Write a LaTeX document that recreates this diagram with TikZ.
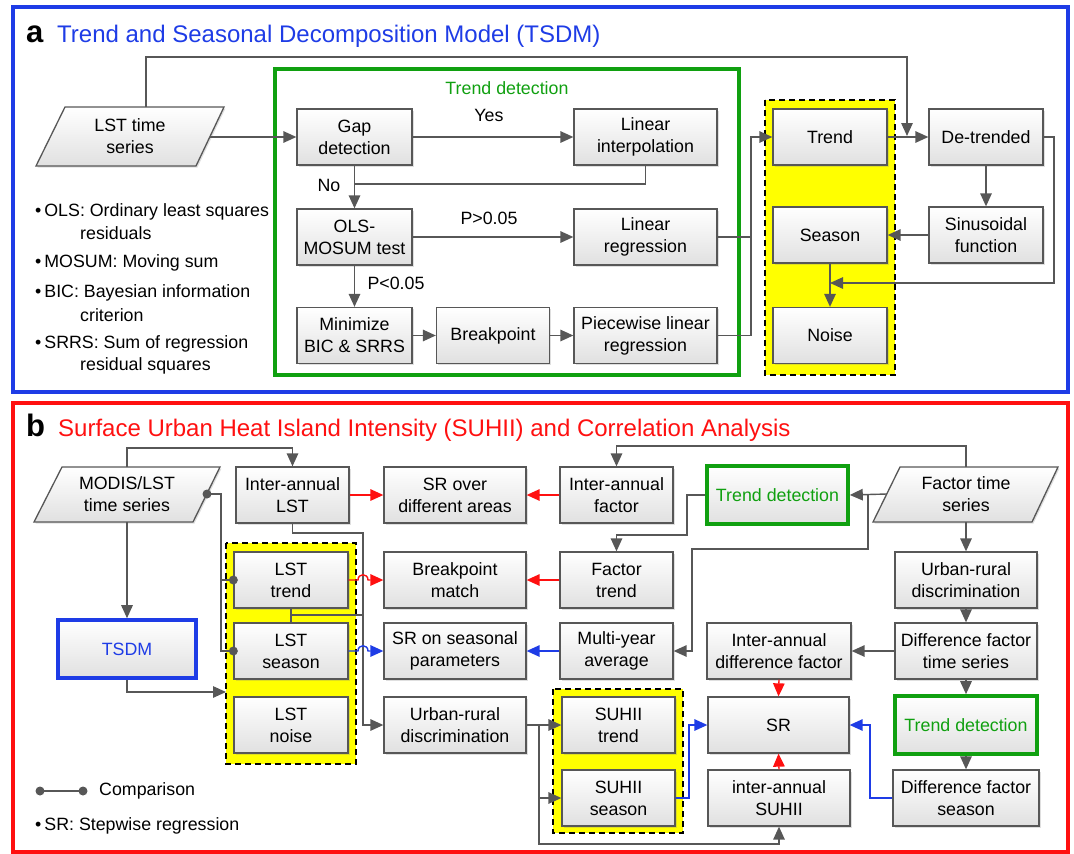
\documentclass[tikz,border=0pt]{standalone}
\usepackage{fontspec}
\setmainfont{Liberation Sans}
\usetikzlibrary{arrows.meta,shadows}
\definecolor{lg}{HTML}{575757}
\definecolor{bblue}{HTML}{1E3CE6}
\definecolor{gg}{HTML}{10A010}
\definecolor{rr}{HTML}{FF1010}
\definecolor{yy}{HTML}{FFFF00}
\tikzset{
  bx/.style={draw=lg, line width=1.3pt, top color=white, bottom color=black!12,
    align=center, inner sep=0pt, font=\fontsize{17.8}{22}\selectfont,
    drop shadow={shadow xshift=1.5pt,shadow yshift=-1.5pt,opacity=0.25}},
  gbx/.style={bx, draw=gg, line width=3.6pt, text=gg},
  bbx/.style={bx, draw=bblue, line width=3.6pt, text=bblue},
  para/.style={draw=lg, line width=1.3pt, top color=white, bottom color=black!12,
    drop shadow={shadow xshift=1.5pt,shadow yshift=-1.5pt,opacity=0.25}},
  txt/.style={inner sep=0pt, align=center, font=\fontsize{17.8}{22}\selectfont},
  lbl/.style={inner sep=0pt, font=\fontsize{17.8}{22}\selectfont},
  ln/.style={draw=lg, line width=1.4pt},
  ar/.style={ln, -{Triangle[length=13pt,width=11.5pt]}},
  rar/.style={ar, draw=rr},
  bar/.style={ar, draw=bblue},
  ybox/.style={fill=yy, draw=black, dash pattern=on 6pt off 4pt, line width=1.3pt},
  dotc/.style={fill=lg},
}
\begin{document}
\begin{tikzpicture}[x=1pt,y=-1pt]
\useasboundingbox (0,0) rectangle (1074,854);
% ================= frames
\draw[bblue, line width=4pt] (13,7) rectangle (1068,392);
\draw[rr, line width=3.5pt] (13,403) rectangle (1068,852);
\node[anchor=base west, inner sep=0pt, font=\bfseries\fontsize{31}{31}\selectfont] (ta) at (26,42) {a};
\node[anchor=base west, inner sep=0pt, text=bblue, font=\fontsize{24}{26}\selectfont] (tta) at (57,42) {Trend and Seasonal Decomposition Model (TSDM)};
\node[anchor=base west, inner sep=0pt, font=\bfseries\fontsize{31}{31}\selectfont] (tb) at (26,436) {b};
\node[anchor=base west, inner sep=0pt, text=rr, font=\fontsize{24}{26}\selectfont] (ttb) at (58,436) {Surface Urban Heat Island Intensity (SUHII) and Correlation Analysis};

% ================= section a
\draw[gg, line width=4pt] (275,69) rectangle (739,375);
\node[lbl, text=gg] (tdl) at (507,88) {Trend detection};
\path[ybox] (765,100) rectangle (895,375);

\path[para] (65,107) -- (224,107) -- (196,166) -- (36,166) -- cycle;
\node[txt] (lst) at (130,136.5) {LST time\\series};
\coordinate (lstE) at (210,137);
\coordinate (lstT) at (146,107);

\node[bx, minimum width=115, minimum height=56] (gap) at (354.5,137) {Gap\\detection};
\node[bx, minimum width=143, minimum height=56] (linint) at (645.5,137) {Linear\\interpolation};
\node[bx, minimum width=115, minimum height=56] (ols) at (354.5,237) {OLS-\\MOSUM test};
\node[bx, minimum width=143, minimum height=56] (linreg) at (645.5,237) {Linear\\regression};
\node[bx, minimum width=115, minimum height=56] (minb) at (354.5,335.5) {Minimize\\BIC \& SRRS};
\node[bx, minimum width=113, minimum height=56] (bkp) at (493,335.5) {Breakpoint};
\node[bx, minimum width=143, minimum height=56] (piece) at (645.5,335.5) {Piecewise linear\\regression};
\node[bx, minimum width=114, minimum height=56] (trend) at (830,137) {Trend};
\node[bx, minimum width=114, minimum height=56] (season) at (830,235) {Season};
\node[bx, minimum width=114, minimum height=56] (noise) at (830,335.5) {Noise};
\node[bx, minimum width=114, minimum height=56] (detr) at (986,137) {De-trended};
\node[bx, minimum width=114, minimum height=56] (sinus) at (986,235) {Sinusoidal\\function};

\node[lbl] (yes) at (489,115) {Yes};
\node[lbl] (no) at (329,185) {No};
\node[lbl] (pg) at (489,218) {P>0.05};
\node[lbl] (pl) at (396,283) {P<0.05};

\coordinate (dtin) at (907,136);
\draw[ar] (lstT) -- (146,57) -- (907,57) -- (dtin);
\draw[ar] (lstE) -- (gap.west);
\draw[ar] (gap.east) -- (linint.west);
\draw[ar] (gap.south) -- (ols.north);
\draw[ln] (linint.south) -- (645.5,184) -- (354.5,184);
\draw[ar] (ols.east) -- (linreg.west);
\draw[ar] (ols.south) -- (minb.north);
\draw[ar] (minb.east) -- (bkp.west);
\draw[ar] (bkp.east) -- (piece.west);
\draw[ar] (linreg.east) -- (751,237) -- (751,137) -- (trend.west);
\draw[ln] (piece.east) -- (751,335.5) -- (751,237);
\draw[ar] (trend.east) -- (detr.west);
\draw[ar] (detr.south) -- (sinus.north);
\draw[ar] (sinus.west) -- (season.east);
\draw[ar] (season.south) -- (noise.north);
\draw[ar] (detr.east) -- (1054,137) -- (1054,283) -- (830,283);

% legend a
\node[lbl, anchor=west] (b1) at (35,212) {\textbullet\,OLS: Ordinary least squares};
\node[lbl, anchor=west] (b1b) at (80,233) {residuals};
\node[lbl, anchor=west] (b2) at (35,263) {\textbullet\,MOSUM: Moving sum};
\node[lbl, anchor=west] (b3) at (35,293) {\textbullet\,BIC: Bayesian information};
\node[lbl, anchor=west] (b3b) at (80,315) {criterion};
\node[lbl, anchor=west] (b4) at (35,344) {\textbullet\,SRRS: Sum of regression};
\node[lbl, anchor=west] (b4b) at (80,366) {residual squares};

% ================= section b
\path[ybox] (226,543) rectangle (356,764);
\path[ybox] (553,689) rectangle (683,833);

\path[para] (62,467) -- (220,467) -- (193,522) -- (34,522) -- cycle;
\node[txt] (modis) at (127,494.5) {MODIS/LST\\time series};
\coordinate (modT) at (127,467);
\coordinate (modB) at (127,522);
\coordinate (modE) at (207,494);

\path[para] (900,467) -- (1058,467) -- (1032,522) -- (873,522) -- cycle;
\node[txt] (fts) at (966,494.5) {Factor time\\series};
\coordinate (ftT) at (966,467);
\coordinate (ftB) at (966,522);
\coordinate (ftW) at (887,494);

\node[bx, minimum width=113, minimum height=56] (ialst) at (292.5,495) {Inter-annual\\LST};
\node[bx, minimum width=142, minimum height=56] (srdiff) at (455,495) {SR over\\different areas};
\node[bx, minimum width=113, minimum height=56] (iafac) at (616.5,495) {Inter-annual\\factor};
\node[gbx, minimum width=141, minimum height=58] (td1) at (777.5,495) {Trend detection};

\node[bx, minimum width=114, minimum height=56] (lsttr) at (291,580) {LST\\trend};
\node[bx, minimum width=142, minimum height=56] (bpm) at (455,580) {Breakpoint\\match};
\node[bx, minimum width=113, minimum height=56] (factr) at (616.5,580) {Factor\\trend};
\node[bx, minimum width=142, minimum height=56] (urr) at (966,580) {Urban-rural\\discrimination};

\node[bx, minimum width=114, minimum height=56] (lstse) at (291,651) {LST\\season};
\node[bx, minimum width=142, minimum height=56] (srseas) at (455,651) {SR on seasonal\\parameters};
\node[bx, minimum width=113, minimum height=56] (mya) at (616.5,651) {Multi-year\\average};
\node[bx, minimum width=144, minimum height=56] (iadf) at (779,651) {Inter-annual\\difference factor};
\node[bx, minimum width=142, minimum height=56] (dfts) at (966,651) {Difference factor\\time series};

\node[bbx, minimum width=138, minimum height=58] (tsdm) at (127,649) {TSDM};

\node[bx, minimum width=114, minimum height=56] (lstno) at (291,725) {LST\\noise};
\node[bx, minimum width=142, minimum height=56] (urm) at (455,725) {Urban-rural\\discrimination};
\node[bx, minimum width=113, minimum height=56] (suht) at (618.5,725) {SUHII\\trend};
\node[bx, minimum width=141, minimum height=56] (sr) at (778.5,725) {SR};
\node[gbx, minimum width=142, minimum height=58] (td2) at (966,725) {Trend detection};

\node[bx, minimum width=113, minimum height=56] (suhs) at (618.5,798) {SUHII\\season};
\node[bx, minimum width=142, minimum height=56] (ias) at (779,798) {inter-annual\\SUHII};
\node[bx, minimum width=146, minimum height=56] (dfs) at (966,798) {Difference factor\\season};

% connectors b
\draw[ar] (modT) -- (127,448) -- (292.5,448) -- (ialst.north);
\draw[ar] (modB) -- (tsdm.north);
\draw[ar] (tsdm.south) -- (127,692) -- (226,692);
\draw[ln] (modE) -- (221,494) -- (221,651) -- (lstse.west);
\draw[ln] (221,580) -- (lsttr.west);
\fill[dotc] (modE) circle[radius=4.5];
\fill[dotc] (lsttr.west) circle[radius=4.5];
\fill[dotc] (lstse.west) circle[radius=4.5];
\draw[rar] (ialst.east) -- (srdiff.west);
\draw[ar] (ialst.south) -- (292.5,533) -- (363,533) -- (363,725) -- (urm.west);
\draw[ln] (lsttr.south) -- (lstse.north);
\draw[ln] (291,615) -- (363,615);
\draw[rar] (lsttr.east) -- (358,580) .. controls (358,573) and (368,573) .. (368,580) -- (bpm.west);
\draw[bar] (lstse.east) -- (358,651) .. controls (358,644) and (368,644) .. (368,651) -- (srseas.west);
\draw[rar] (iafac.west) -- (srdiff.east);
\draw[rar] (factr.west) -- (bpm.east);
\draw[bar] (mya.west) -- (srseas.east);
\draw[ar] (ftT) -- (966,446) -- (616.5,446) -- (iafac.north);
\draw[ar] (ftW) -- (td1.east);
\draw[ar] (868,494) -- (868,549) -- (692,549) -- (692,651) -- (mya.east);
\draw[ar] (td1.west) -- (687,495) -- (687,535) -- (616.5,535) -- (factr.north);
\draw[ar] (ftB) -- (urr.north);
\draw[ar] (urr.south) -- (dfts.north);
\draw[ar] (dfts.south) -- (td2.north);
\draw[ar] (td2.south) -- (dfs.north);
\draw[ar] (dfts.west) -- (iadf.east);
\draw[rar] (iadf.south) -- (sr.north);
\draw[rar] (ias.north) -- (sr.south);
\draw[bar] (dfs.west) -- (870,798) -- (870,725) -- (sr.east);
\draw[ar] (urm.east) -- (539,725) -- (suht.west);
\draw[ar] (539,725) -- (539,798) -- (suhs.west);
\draw[ar] (539,798) -- (539,844) -- (779,844) -- (ias.south);
\draw[bar] (suhs.east) -- (689,798) -- (689,725) -- (sr.west);

% legend b
\coordinate (cd1) at (40,791);
\coordinate (cd2) at (83,791);
\draw[ln] (cd1) -- (cd2);
\fill[dotc] (cd1) circle[radius=4.5];
\fill[dotc] (cd2) circle[radius=4.5];
\node[lbl, anchor=west] (cmp) at (99,791) {Comparison};
\node[lbl, anchor=west] (srl) at (35,826) {\textbullet\,SR: Stepwise regression};
\end{tikzpicture}
\end{document}
